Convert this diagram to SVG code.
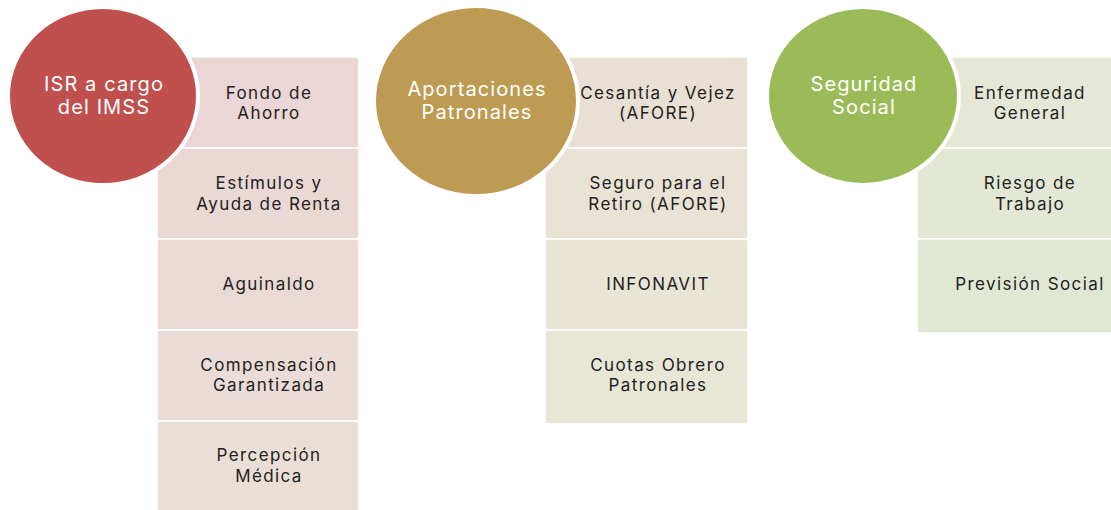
<svg xmlns="http://www.w3.org/2000/svg" width="1111" height="510" viewBox="0 0 1111 510">
<style>
.box{stroke:#ffffff;stroke-width:1.5}
.circ{stroke:#ffffff;stroke-width:4}
.t{font-family:Inter,"Open Sans","Liberation Sans",sans-serif;font-size:17px;letter-spacing:1.4px;fill:#222222;text-anchor:middle}
.ct{font-family:Inter,"Open Sans","Liberation Sans",sans-serif;font-size:20px;letter-spacing:1.1px;fill:#ffffff;text-anchor:middle}
</style>
<rect width="1111" height="510" fill="#ffffff"/>
<g id="col1">
<g id="n1a"><rect class="box" x="157" y="57" width="202" height="91" rx="3" fill="#EBD5D5"/><text class="t" x="269" y="99">Fondo de</text><text class="t" x="269" y="119">Ahorro</text></g>
<g id="n1b"><rect class="box" x="157" y="148" width="202" height="91" rx="3" fill="#EAD8D5"/><text class="t" x="269" y="189">Estímulos y</text><text class="t" x="269" y="210">Ayuda de Renta</text></g>
<g id="n1c"><rect class="box" x="157" y="239" width="202" height="91" rx="3" fill="#EADAD5"/><text class="t" x="269" y="290">Aguinaldo</text></g>
<g id="n1d"><rect class="box" x="157" y="330" width="202" height="91" rx="3" fill="#EADCD6"/><text class="t" x="269" y="371">Compensación</text><text class="t" x="269" y="391">Garantizada</text></g>
<g id="n1e"><rect class="box" x="157" y="421" width="202" height="94" rx="3" fill="#EADFD6"/><text class="t" x="269" y="461">Percepción</text><text class="t" x="269" y="482">Médica</text></g>
<g id="c1"><ellipse class="circ" cx="103" cy="96" rx="95" ry="89" fill="#C0504D"/><text class="ct" x="104" y="91">ISR a cargo</text><text class="ct" x="104" y="114">del IMSS</text></g>
</g>
<g id="col2">
<g id="n2a"><rect class="box" x="545" y="57" width="203" height="91" rx="3" fill="#E8E0D3"/><text class="t" x="658" y="99">Cesantía y Vejez</text><text class="t" x="658" y="119">(AFORE)</text></g>
<g id="n2b"><rect class="box" x="545" y="148" width="203" height="91" rx="3" fill="#E8E3D4"/><text class="t" x="658" y="189">Seguro para el</text><text class="t" x="658" y="210">Retiro (AFORE)</text></g>
<g id="n2c"><rect class="box" x="545" y="239" width="203" height="91" rx="3" fill="#E8E5D5"/><text class="t" x="658" y="290">INFONAVIT</text></g>
<g id="n2d"><rect class="box" x="545" y="330" width="203" height="94" rx="3" fill="#E8E7D5"/><text class="t" x="658" y="371">Cuotas Obrero</text><text class="t" x="658" y="391">Patronales</text></g>
<g id="c2"><ellipse class="circ" cx="476" cy="101" rx="102" ry="95" fill="#BE9B52"/><text class="ct" x="477" y="96">Aportaciones</text><text class="ct" x="477" y="119">Patronales</text></g>
</g>
<g id="col3">
<g id="n3a"><rect class="box" x="917" y="57" width="198" height="91" rx="3" fill="#E5E8D6"/><text class="t" x="1030" y="99">Enfermedad</text><text class="t" x="1030" y="119">General</text></g>
<g id="n3b"><rect class="box" x="917" y="148" width="198" height="91" rx="3" fill="#E3E8D5"/><text class="t" x="1030" y="189">Riesgo de</text><text class="t" x="1030" y="210">Trabajo</text></g>
<g id="n3c"><rect class="box" x="917" y="239" width="198" height="94" rx="3" fill="#E0E8D4"/><text class="t" x="1030" y="290">Previsión Social</text></g>
<g id="c3"><ellipse class="circ" cx="863" cy="96" rx="96" ry="89" fill="#9BBB59"/><text class="ct" x="864" y="91">Seguridad</text><text class="ct" x="864" y="114">Social</text></g>
</g>
<g id="connectors"></g>
</svg>
